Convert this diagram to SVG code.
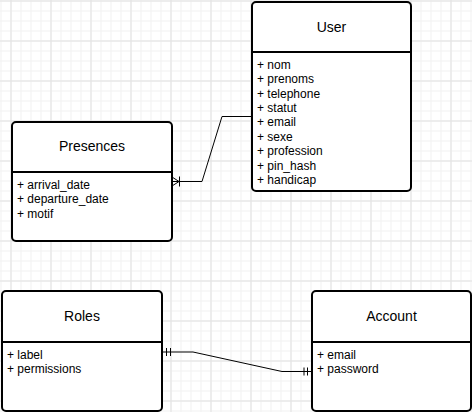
<svg xmlns="http://www.w3.org/2000/svg" width="472" height="412" viewBox="0 0 472 412">
<defs>
<pattern id="minor" x="0.5" y="0.5" width="10" height="10" patternUnits="userSpaceOnUse">
<path d="M0.5 0 V10 M0 0.5 H10" stroke="#f1f1f1" stroke-width="1" fill="none"/>
</pattern>
<pattern id="major" x="10.5" y="0.5" width="40" height="40" patternUnits="userSpaceOnUse">
<path d="M0.5 0 V40 M0 0.5 H40" stroke="#e2e2e2" stroke-width="1" fill="none"/>
</pattern>
</defs>
<style>
.box{fill:#fff;stroke:#000;stroke-width:2}
.div{stroke:#000;stroke-width:2}
.title{font-family:"Liberation Sans",Arial,sans-serif;font-size:14px;fill:#000;text-anchor:middle}
.attr{font-family:"Liberation Sans",Arial,sans-serif;font-size:12px;fill:#000}
.edge{fill:none;stroke:#000;stroke-width:1}
</style>
<rect width="472" height="412" fill="#fff"/>
<rect width="472" height="412" fill="url(#minor)"/>
<rect width="472" height="412" fill="url(#major)"/>

<g id="connectors">
<path class="edge" d="M251 116.5 H222 L202 181.5 H173"/>
<path class="edge" d="M172 177 L179 181.5 L172 186 M179.5 176.5 V186.5"/>
<path class="edge" d="M162 352 H193 L282 371.5 H311"/>
<path class="edge" d="M166.5 348 V356 M170.5 348 V356"/>
<path class="edge" d="M304 367.5 V375.5 M307.5 367.5 V375.5"/>
</g>

<g id="User">
<rect class="box" x="252" y="2" width="159" height="189" rx="4"/>
<line class="div" x1="252" y1="52" x2="411" y2="52"/>
<text class="title" x="331.5" y="31.5">User</text>
<text class="attr" x="257" y="68.6">+ nom</text>
<text class="attr" x="257" y="83">+ prenoms</text>
<text class="attr" x="257" y="97.5">+ telephone</text>
<text class="attr" x="257" y="112">+ statut</text>
<text class="attr" x="257" y="126.4">+ email</text>
<text class="attr" x="257" y="140.9">+ sexe</text>
<text class="attr" x="257" y="155.3">+ profession</text>
<text class="attr" x="257" y="169.8">+ pin_hash</text>
<text class="attr" x="257" y="184.2">+ handicap</text>
</g>

<g id="Presences">
<rect class="box" x="12" y="122" width="160" height="119" rx="4"/>
<line class="div" x1="12" y1="172" x2="172" y2="172"/>
<text class="title" x="92" y="151">Presences</text>
<text class="attr" x="17" y="189">+ arrival_date</text>
<text class="attr" x="17" y="203.4">+ departure_date</text>
<text class="attr" x="17" y="217.8">+ motif</text>
</g>

<g id="Roles">
<rect class="box" x="2" y="291" width="160" height="120" rx="4"/>
<line class="div" x1="2" y1="342" x2="162" y2="342"/>
<text class="title" x="82" y="321">Roles</text>
<text class="attr" x="7" y="359">+ label</text>
<text class="attr" x="7" y="373.4">+ permissions</text>
</g>

<g id="Account">
<rect class="box" x="312" y="291" width="159" height="120" rx="4"/>
<line class="div" x1="312" y1="342" x2="471" y2="342"/>
<text class="title" x="391.5" y="321">Account</text>
<text class="attr" x="317" y="359">+ email</text>
<text class="attr" x="317" y="373.4">+ password</text>
</g>
</svg>
